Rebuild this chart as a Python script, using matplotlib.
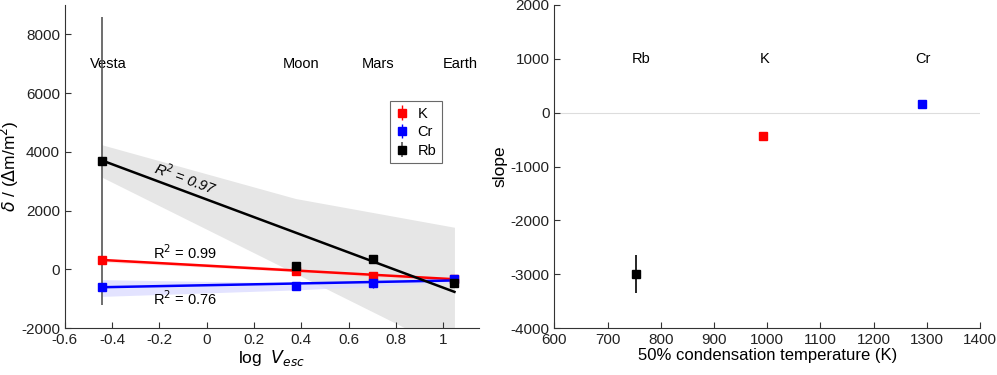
import numpy as np
import matplotlib.pyplot as plt
from matplotlib.ticker import FuncFormatter

plt.rcParams['font.family'] = ['Liberation Sans', 'DejaVu Sans']
plt.rcParams['axes.unicode_minus'] = False
plt.rcParams['font.size'] = 10.5

# bodies and log escape velocity
bodies = ['Vesta', 'Moon', 'Mars', 'Earth']
log_vesc = np.array([-0.443, 0.376, 0.702, 1.048])

# delta values per element
k_vals = np.array([307, -45, -216, -330])
cr_vals = np.array([-614, -580, -477, -330])
rb_vals = np.array([3700, 100, 352, -477])
k_err = np.array([0, 0, 0, 0])
rb_err = np.array([4900, 0, 0, 0])
cr_err = np.array([0, 0, 150, 0])

# linear fits (intercept, slope)
k_fit = (125, -440)
cr_fit = (-540, 155)
rb_fit = (2378, -3000)

# confidence bands at the body positions
rb_band_hi = np.array([4239, 2410, 1936, 1432])
rb_band_lo = np.array([3136, -140, -1444, -2828])
cr_band_hi = np.array([-351, -460, -390, -273])
cr_band_lo = np.array([-920, -700, -570, -443])
k_band_hi = np.array([360, 40, -160, -270])
k_band_lo = np.array([250, -80, -260, -390])

r2_text = ['R$^2$ = 0.99', 'R$^2$ = 0.76', 'R$^2$ = 0.97']

# right panel
elements = ['Rb', 'K', 'Cr']
t_cond = np.array([753, 993, 1291])
label_x = np.array([763, 996, 1292])
slopes = np.array([-2994, -441, 155])
slope_err = np.array([355, 0, 0])
el_colors = ['black', 'red', 'blue']

fig = plt.figure(figsize=(9.97, 3.75), dpi=100)
ax1 = fig.add_axes([0.065, 0.125, 0.415, 0.862])
ax2 = fig.add_axes([0.556, 0.125, 0.427, 0.862])

fmt = FuncFormatter(lambda v, p: '%g' % round(v, 6))

for ax in (ax1, ax2):
    for s in ('top', 'right'):
        ax.spines[s].set_visible(False)
    for s in ('left', 'bottom'):
        ax.spines[s].set_color('#333333')
    ax.tick_params(direction='in', length=4, color='#333333', labelcolor='#222222',
                   labelsize=11)
    ax.xaxis.set_major_formatter(fmt)
    ax.yaxis.set_major_formatter(fmt)

# left panel
xf = np.array([log_vesc[0], log_vesc[-1]])
ax1.fill_between(log_vesc, rb_band_lo, rb_band_hi, color='#e6e6e6', lw=0, zorder=1)
ax1.fill_between(log_vesc, cr_band_lo, cr_band_hi, color='#dcdcff', alpha=0.8, lw=0, zorder=1)
ax1.fill_between(log_vesc, k_band_lo, k_band_hi, color='#ffd0d0', alpha=0.6, lw=0, zorder=1)

ax1.plot(xf, k_fit[0] + k_fit[1] * xf, color='red', lw=1.8, zorder=3)
ax1.plot(xf, cr_fit[0] + cr_fit[1] * xf, color='blue', lw=1.8, zorder=3)
ax1.plot(xf, rb_fit[0] + rb_fit[1] * xf, color='black', lw=1.8, zorder=3)

ax1.errorbar(log_vesc, k_vals, yerr=k_err, fmt='s', color='red', ms=6,
             elinewidth=1, label='K', zorder=4)
ax1.errorbar(log_vesc, cr_vals, yerr=cr_err, fmt='s', color='blue', ms=6,
             elinewidth=1, label='Cr', zorder=4)
ax1.errorbar(log_vesc, rb_vals, yerr=rb_err, fmt='s', color='black', ecolor='#555555',
             ms=6, elinewidth=1.2, label='Rb', zorder=4)

for b, x in zip(bodies, log_vesc):
    ax1.text(x + 0.025, 7000, b, ha='center', va='center', fontsize=10.5)

ax1.text(-0.09, 570, r2_text[0], ha='center', va='center', fontsize=10.5)
ax1.text(-0.09, -1000, r2_text[1], ha='center', va='center', fontsize=10.5)
ax1.text(-0.09, 3090, r2_text[2], ha='center', va='center', fontsize=10.5,
         rotation=-20, style='italic')

ax1.set_xlim(-0.6, 1.15)
ax1.set_ylim(-2000, 9000)
ax1.set_xticks(np.arange(-0.6, 1.01, 0.2))
ax1.set_yticks(np.arange(-2000, 8001, 2000))
ax1.set_xlabel('log  $V_{esc}$', fontsize=12.5, labelpad=1)
ax1.set_ylabel(r'$\delta$ / ($\Delta$m/m$^2$)', fontsize=12.5)
ax1.yaxis.set_label_coords(-0.105, 0.5)
leg = ax1.legend(loc='upper right', bbox_to_anchor=(0.93, 0.725), fancybox=False,
                 edgecolor='#444444', fontsize=10.5, handlelength=0.9, borderpad=0.4,
                 labelspacing=0.3, handletextpad=0.6)
leg.get_frame().set_linewidth(0.8)

# right panel
ax2.axhline(0, color='#dddddd', lw=0.8, zorder=1)
for x, y, e, c in zip(t_cond, slopes, slope_err, el_colors):
    ax2.errorbar(x, y, yerr=e if e else None, fmt='s', color=c, ms=6,
                 elinewidth=1.2, zorder=3)
for el, x in zip(elements, label_x):
    ax2.text(x, 1000, el, ha='center', va='center', fontsize=10.5)

ax2.set_xlim(600, 1400)
ax2.set_ylim(-4000, 2000)
ax2.set_xticks(np.arange(600, 1401, 100))
ax2.set_yticks(np.arange(-4000, 2001, 1000))
ax2.set_xlabel('50% condensation temperature (K)', fontsize=12, labelpad=1)
ax2.set_ylabel('slope', fontsize=12.5, labelpad=2)

fig.savefig('out.png', dpi=100)
